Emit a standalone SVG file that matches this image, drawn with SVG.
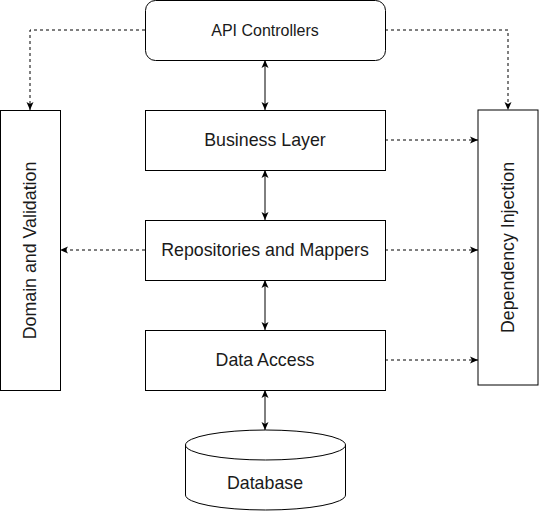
<svg xmlns="http://www.w3.org/2000/svg" width="539" height="511" viewBox="0 0 539 511">
<style>
.box{fill:#fff;stroke:#000;stroke-width:1}
.t{font-family:"Liberation Sans",Arial,sans-serif;font-size:17.8px;fill:#1a1a1a;text-anchor:middle}
.c{fill:none;stroke:#000;stroke-width:1}
.d{stroke-dasharray:3 3}
</style>
<defs>
<marker id="ah" viewBox="0 0 8 8" refX="8" refY="4" markerWidth="8" markerHeight="8" markerUnits="userSpaceOnUse" orient="auto-start-reverse">
<path d="M0,0.5 L8,4 L0,7.5 L2,4 Z" fill="#000"/>
</marker>
</defs>
<rect width="539" height="511" fill="#fff"/>
<g id="connectors">
<path class="c d" d="M145,30 H30 V110" marker-end="url(#ah)"/>
<path class="c d" d="M385,30 H508 V110" marker-end="url(#ah)"/>
<path class="c d" d="M385,140 H478" marker-end="url(#ah)"/>
<path class="c d" d="M145,250 H60" marker-end="url(#ah)"/>
<path class="c d" d="M385,250 H478" marker-end="url(#ah)"/>
<path class="c d" d="M385,360 H478" marker-end="url(#ah)"/>
<path class="c" d="M265,60 V110" marker-start="url(#ah)" marker-end="url(#ah)"/>
<path class="c" d="M265,170 V220" marker-start="url(#ah)" marker-end="url(#ah)"/>
<path class="c" d="M265,280 V330" marker-start="url(#ah)" marker-end="url(#ah)"/>
<path class="c" d="M265,390 V430" marker-start="url(#ah)" marker-end="url(#ah)"/>
</g>
<g id="api">
<rect class="box" x="145.5" y="0.5" width="240" height="60" rx="10" ry="10"/>
<text class="t" x="265" y="35.6" style="font-size:16px">API Controllers</text>
</g>
<g id="business">
<rect class="box" x="145.5" y="110.5" width="240" height="60"/>
<text class="t" x="265" y="146.2">Business Layer</text>
</g>
<g id="repos">
<rect class="box" x="145.5" y="220.5" width="240" height="60"/>
<text class="t" x="265" y="256.2">Repositories and Mappers</text>
</g>
<g id="data">
<rect class="box" x="145.5" y="330.5" width="240" height="60"/>
<text class="t" x="265" y="366.2">Data Access</text>
</g>
<g id="domain">
<rect class="box" x="0.5" y="110.5" width="60" height="280"/>
<text class="t" transform="translate(36.4,250.5) rotate(-90)" x="0" y="0">Domain and Validation</text>
</g>
<g id="di">
<rect class="box" x="478" y="110" width="60" height="275"/>
<text class="t" transform="translate(514.2,247.5) rotate(-90)" x="0" y="0">Dependency Injection</text>
</g>
<g id="database">
<path class="box" d="M185.5,445 A80,15 0 0 1 345.5,445 V495 A80,15 0 0 1 185.5,495 Z"/>
<path class="c" d="M185.5,445 A80,15 0 0 0 345.5,445"/>
<text class="t" x="265" y="489">Database</text>
</g>
</svg>
